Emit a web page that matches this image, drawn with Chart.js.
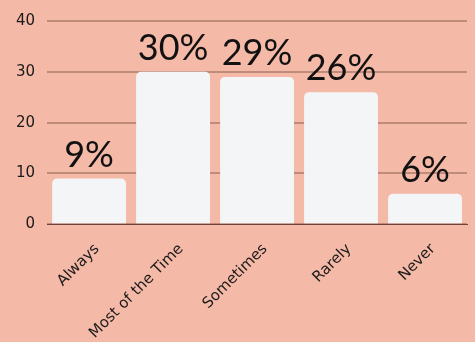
<!DOCTYPE html>
<html>
<head>
<meta charset="utf-8">
<script src="https://cdn.jsdelivr.net/npm/chart.js@4"></script>
<style>
  html, body { margin: 0; padding: 0; background: #F5B9A7; }
  #wrap { width: 475px; height: 342px; }
</style>
</head>
<body>
<div id="wrap"><canvas id="c"></canvas></div>
<script>
const categories = ["Always", "Most of the Time", "Sometimes", "Rarely", "Never"];
const percentages = [9, 30, 29, 26, 6];
const yTicks = [0, 10, 20, 30, 40];

const LABEL_FONT = "Lato, 'DejaVu Sans', sans-serif";
const TICK_FONT = "'DejaVu Sans', sans-serif";

// Writes each bar's percentage just above its top edge
const valueLabels = {
  id: 'valueLabels',
  afterDatasetsDraw(chart) {
    const ctx = chart.ctx;
    const meta = chart.getDatasetMeta(0);
    ctx.save();
    ctx.font = "400 36px " + LABEL_FONT;
    ctx.fillStyle = "#111111";
    ctx.textAlign = "center";
    ctx.textBaseline = "alphabetic";
    meta.data.forEach((bar, i) => {
      ctx.fillText(percentages[i] + "%", bar.x, bar.y - 12);
    });
    ctx.restore();
  }
};

new Chart(document.getElementById('c'), {
  type: 'bar',
  data: {
    labels: categories,
    datasets: [{
      data: percentages,
      backgroundColor: "#F4F5F7",
      borderRadius: { topLeft: 5, topRight: 5, bottomLeft: 0, bottomRight: 0 },
      borderSkipped: 'bottom',
      categoryPercentage: 0.88,
      barPercentage: 1.0
    }]
  },
  options: {
    responsive: true,
    maintainAspectRatio: false,
    animation: false,
    layout: { padding: { top: 14, right: 8, left: 4, bottom: -8 } },
    plugins: { legend: { display: false }, tooltip: { enabled: false } },
    scales: {
      x: {
        grid: { display: false },
        border: { display: true, color: "#6E4234", width: 1 },
        ticks: {
          color: "#1a1a1a",
          font: { family: TICK_FONT, size: 15 },
          maxRotation: 45,
          minRotation: 45,
          padding: 8,
          labelOffset: 8
        }
      },
      y: {
        min: 0,
        max: 40,
        afterBuildTicks(axis) { axis.ticks = yTicks.map(v => ({ value: v })); },
        grid: { color: "#BF8C7C", lineWidth: 2, drawTicks: false },
        border: { display: false },
        ticks: {
          color: "#1a1a1a",
          font: { family: TICK_FONT, size: 15 },
          padding: 12
        }
      }
    }
  },
  plugins: [valueLabels]
});
</script>
</body>
</html>
